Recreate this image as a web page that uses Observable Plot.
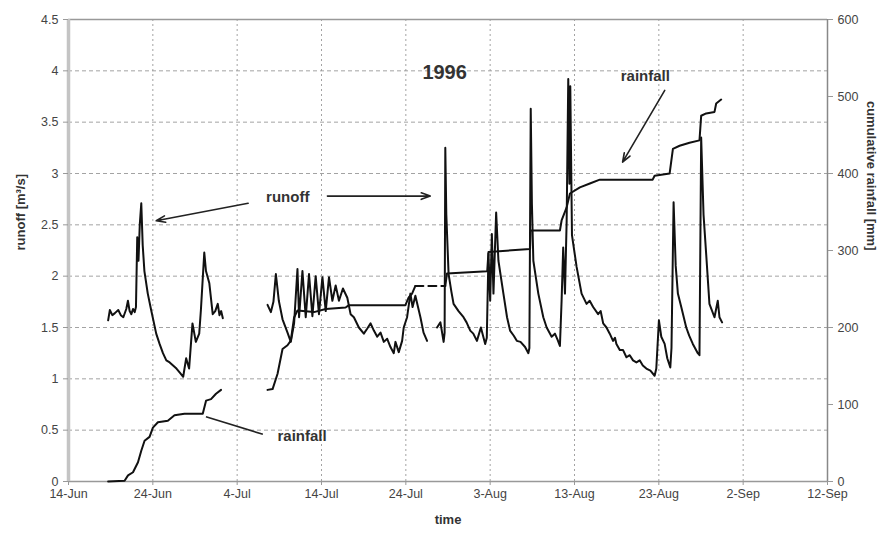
<!DOCTYPE html>
<html><head><meta charset="utf-8">
<script src="https://cdn.jsdelivr.net/npm/d3@7"></script>
<script src="https://cdn.jsdelivr.net/npm/@observablehq/plot@0.6"></script>
<style>body{margin:0;background:#fff;} #chart svg{font-family:"Liberation Sans",Arial,sans-serif;}</style>
</head><body><div id="chart"></div>
<script>
// ---- data (x = days after 14-Jun-1996) ----
const startDate = Date.UTC(1996, 5, 14);
const xTickDays = [0, 10, 20, 30, 40, 50, 60, 70, 80, 90];
const leftTicks = [0, 0.5, 1, 1.5, 2, 2.5, 3, 3.5, 4, 4.5];
const rightTicks = [0, 100, 200, 300, 400, 500, 600];
const leftMax = 4.5, rightMax = 600;

const runoffJune = [[4.7,1.57],[4.9,1.67],[5.2,1.62],[5.5,1.64],[5.9,1.67],[6.2,1.62],[6.5,1.6],[6.85,1.68],[7.05,1.76],[7.25,1.66],[7.45,1.63],[7.65,1.68],[7.85,1.65],[8.0,1.7],[8.15,2.38],[8.3,2.15],[8.45,2.5],[8.63,2.71],[8.8,2.3],[9.0,2.05],[9.4,1.83],[9.8,1.67],[10.4,1.44],[10.8,1.34],[11.2,1.25],[11.6,1.18],[12.0,1.16],[12.4,1.13],[12.8,1.1],[13.2,1.06],[13.6,1.02],[13.95,1.2],[14.3,1.1],[14.7,1.54],[15.1,1.36],[15.5,1.44],[15.7,1.67],[16.1,2.23],[16.3,2.05],[16.7,1.93],[17.1,1.63],[17.4,1.66],[17.7,1.73],[17.9,1.62],[18.1,1.66],[18.3,1.59]];

const runoffJuly = [[23.6,1.72],[24.0,1.65],[24.3,1.75],[24.59,2.02],[24.94,1.76],[25.38,1.58],[25.97,1.45],[26.36,1.36],[26.75,1.54],[27.15,2.07],[27.34,1.60],[27.74,2.05],[28.13,1.60],[28.52,2.02],[28.92,1.61],[29.31,2.0],[29.70,1.63],[30.11,1.99],[30.5,1.66],[30.89,1.99],[31.29,1.76],[31.68,1.91],[32.07,1.76],[32.54,1.88],[33.06,1.79],[33.45,1.63],[33.84,1.60],[34.43,1.50],[35.02,1.44],[35.43,1.49],[35.82,1.54],[36.21,1.47],[36.61,1.41],[37.0,1.45],[37.39,1.36],[37.79,1.39],[38.18,1.31],[38.57,1.25],[38.77,1.36],[39.16,1.26],[39.56,1.37],[39.75,1.50],[40.15,1.60],[40.54,1.83],[40.8,1.70],[41.13,1.81],[41.73,1.60],[42.1,1.45],[42.52,1.37]];

const runoffAugust = [[43.7,1.50],[44.1,1.55],[44.48,1.36],[44.6,1.45],[44.68,3.25],[44.8,2.6],[45.07,2.02],[45.4,1.85],[45.66,1.73],[46.25,1.66],[46.84,1.60],[47.2,1.55],[47.64,1.47],[48.0,1.44],[48.43,1.37],[48.9,1.50],[49.41,1.34],[49.6,1.4],[49.8,2.22],[50.0,1.76],[50.2,2.41],[50.39,1.83],[50.71,2.62],[50.98,2.15],[51.57,1.83],[52.0,1.6],[52.36,1.47],[52.8,1.42],[53.16,1.37],[53.6,1.36],[54.14,1.31],[54.53,1.25],[54.65,1.3],[54.81,3.63],[54.95,2.7],[55.12,2.15],[55.71,1.83],[56.30,1.60],[56.70,1.50],[57.29,1.41],[57.68,1.44],[58.0,1.38],[58.27,1.32],[58.47,1.76],[58.66,2.28],[58.87,1.83],[59.07,2.54],[59.26,3.92],[59.4,2.9],[59.5,3.85],[59.7,2.4],[60.25,2.09],[60.84,1.83],[61.43,1.73],[61.8,1.76],[62.21,1.70],[62.80,1.63],[63.1,1.66],[63.40,1.54],[63.79,1.50],[64.18,1.44],[64.57,1.37],[64.8,1.40],[64.97,1.34],[65.37,1.28],[65.76,1.28],[66.16,1.21],[66.55,1.23],[66.94,1.18],[67.34,1.16],[67.73,1.18],[68.1,1.13],[68.52,1.10],[69.0,1.08],[69.5,1.03],[69.7,1.1],[70.01,1.57],[70.29,1.41],[70.69,1.34],[71.0,1.2],[71.36,1.11],[71.5,1.3],[71.75,2.72],[72.0,2.1],[72.26,1.83],[72.66,1.70],[73.25,1.50],[73.6,1.42],[74.03,1.34],[74.62,1.25],[74.82,1.23],[75.02,3.35],[75.3,2.6],[75.61,2.22],[76.0,1.73],[76.6,1.60],[76.99,1.76],[77.19,1.60],[77.5,1.55]];

const rainJune = [[4.7,0],[6.65,1],[7.06,8],[7.65,12],[8.24,25],[8.63,40],[9.02,53],[9.61,58],[10.01,70],[10.6,77],[11.78,79],[12.57,86],[13.75,88],[15.92,88],[16.31,105],[16.9,107],[17.49,114],[18.09,119]];
const rainJuly = [[23.6,119],[24.2,120],[24.79,140],[25.38,172],[25.97,177],[26.36,183],[26.75,213],[27.15,222],[29.11,220],[30.5,224],[32.86,226],[33.25,229],[39.95,229],[40.34,239],[40.74,244],[41.13,254]];
const rainMissing = [[41.13,254],[44.68,254]];
const rainAugust = [[44.68,254],[44.88,270],[46.45,271],[49.65,273],[49.8,298],[54.73,302],[54.81,326],[58.27,326],[58.47,339],[59.07,356],[59.46,374],[60.64,382],[61.82,387],[63.0,392],[69.27,392],[69.5,397],[71.28,400],[71.67,432],[72.46,436],[73.64,440],[74.82,443],[75.02,475],[75.61,478],[76.6,480],[76.8,491],[77.39,496]];

const labels = [
  {text: "1996", day: 44.6, v: 3.98, size: 20},
  {text: "runoff", day: 26.0, v: 2.77, size: 15},
  {text: "rainfall", day: 27.7, v: 0.44, size: 15},
  {text: "rainfall", day: 68.4, v: 3.95, size: 15}
];
const arrows = [
  {d1: 21.3, v1: 2.71, d2: 10.4, v2: 2.54},
  {d1: 30.7, v1: 2.78, d2: 42.9, v2: 2.78},
  {d1: 70.7, v1: 3.81, d2: 65.7, v2: 3.11}
];
const leaders = [{d1: 16.3, v1: 0.63, d2: 23.05, v2: 0.46}];

// ---- helpers ----
const date = d => new Date(startDate + d * 864e5);
const k = leftMax / rightMax;
const fmt = d3.utcFormat("%-d-%b");
const gridDash = "4,3";

const plot = Plot.plot({
  width: 889, height: 538,
  marginLeft: 68, marginRight: 62, marginTop: 19, marginBottom: 57,
  style: {fontFamily: "Liberation Sans, Arial, sans-serif", fontSize: "12.5px", color: "#333", background: "white", overflow: "visible"},
  x: {type: "utc", domain: [date(0), date(90)]},
  y: {domain: [0, leftMax]},
  marks: [
    Plot.gridY(leftTicks.slice(1, -1), {stroke: "#999", strokeOpacity: 0.9, strokeDasharray: gridDash}),
    Plot.gridX(xTickDays.slice(1, -1).map(date), {stroke: "#999", strokeOpacity: 0.9, strokeDasharray: "2,3"}),
    Plot.ruleY([leftMax], {stroke: "#999", strokeWidth: 1.5}),
    Plot.ruleY([0], {stroke: "#999", strokeWidth: 1.5}),
    Plot.ruleX([date(90)], {stroke: "#888", strokeWidth: 1.5}),
    Plot.ruleX([date(0)], {stroke: "#c4c4c4", strokeWidth: 3.5}),
    ...[rainJune, rainJuly, rainAugust].map(s => Plot.line(s, {x: d => date(d[0]), y: d => d[1] * k, stroke: "#111", strokeWidth: 2})),
    Plot.line(rainMissing, {x: d => date(d[0]), y: d => d[1] * k, stroke: "#111", strokeWidth: 2, strokeDasharray: "8,5"}),
    ...[runoffJune, runoffJuly, runoffAugust].map(s => Plot.line(s, {x: d => date(d[0]), y: d => d[1], stroke: "#111", strokeWidth: 2})),
    Plot.arrow(arrows, {x1: d => date(d.d1), y1: "v1", x2: d => date(d.d2), y2: "v2", stroke: "#222", strokeWidth: 1.6, headLength: 9, headAngle: 40}),
    Plot.link(leaders, {x1: d => date(d.d1), y1: "v1", x2: d => date(d.d2), y2: "v2", stroke: "#222", strokeWidth: 1.6}),
    Plot.text(labels, {x: d => date(d.day), y: "v", text: "text", fontSize: d => d.size, fontWeight: "bold", fill: "#333"}),
    Plot.axisX(xTickDays.map(date), {tickFormat: fmt, tickSize: 4, tickPadding: 4, stroke: "#999", fill: "#444", label: null}),
    Plot.axisY(leftTicks, {anchor: "left", tickSize: 5, tickPadding: 5, stroke: "#999", fill: "#444", tickFormat: d => String(d), label: null}),
    Plot.axisY(rightTicks.map(r => r * k), {anchor: "right", tickSize: 5, tickPadding: 5, stroke: "#999", fill: "#444", tickFormat: v => String(Math.round(v / k)), label: null}),
    Plot.text(["runoff [m³/s]"], {frameAnchor: "left", dx: -48, rotate: -90, fontSize: 13, fontWeight: "bold", fill: "#333"}),
    Plot.text(["cumulative rainfall [mm]"], {frameAnchor: "right", dx: 44, rotate: 90, fontSize: 13, fontWeight: "bold", fill: "#333"}),
    Plot.text(["time"], {frameAnchor: "bottom", dy: 42, fontSize: 13, fontWeight: "bold", fill: "#333"})
  ]
});
document.getElementById("chart").append(plot);
</script>
</body></html>
